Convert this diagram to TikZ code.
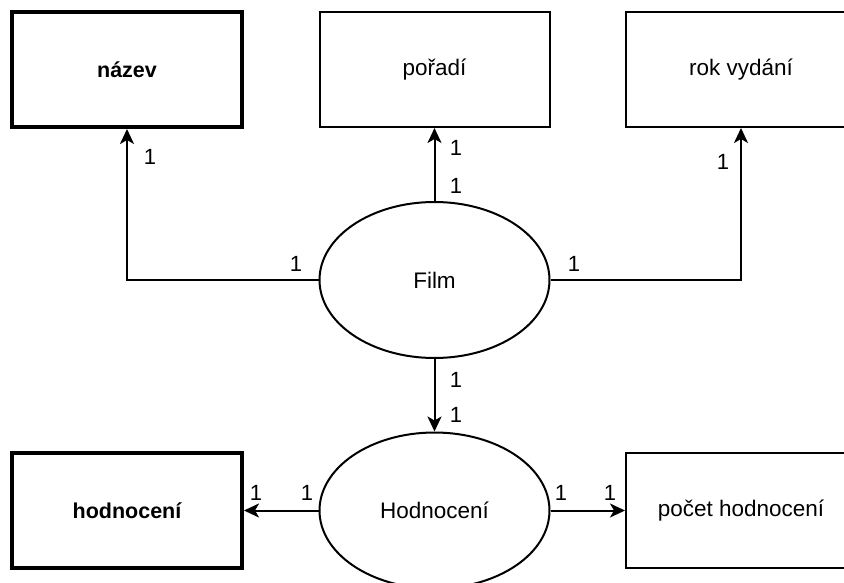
\documentclass[tikz,border=0pt]{standalone}
\usepackage{fontspec}
\setmainfont{Liberation Sans}
\usetikzlibrary{arrows.meta,shapes.geometric}
\begin{document}
\begin{tikzpicture}[x=1pt,y=-1pt,
  attr/.style={draw,line width=2pt,minimum width=230pt,minimum height=115pt,inner sep=0pt,font=\fontsize{22.5}{27}\selectfont},
  keyattr/.style={attr,line width=4pt,font=\fontsize{21.5}{26}\selectfont\bfseries},
  ent/.style={draw,ellipse,line width=2pt,minimum width=230pt,minimum height=156pt,inner sep=0pt,font=\fontsize{22.5}{27}\selectfont},
  conn/.style={line width=2pt,-{Stealth[length=15pt,width=14pt,inset=4pt]}},
  card/.style={font=\fontsize{22}{26}\selectfont,inner sep=0pt}]
\useasboundingbox (0,0) rectangle (844,583);
\clip (0,0) rectangle (844,583);
\fill[white] (0,0) rectangle (844,583);
\node[keyattr] (nazev) at (127,69.5) {název};
\node[attr] (poradi) at (434.5,69.5) {pořadí};
\node[attr] (rok) at (741,69.5) {rok vydání};
\node[keyattr] (hodbox) at (127,510.5) {hodnocení};
\node[attr] (pocet) at (741,510.5) {počet hodnocení};
\node[ent] (film) at (434.5,280) {Film};
\node[ent] (hod) at (434.5,510.5) {Hodnocení};
\draw[conn] (film.west) -| (nazev.south);
\draw[conn] (film.north) -- (poradi.south);
\draw[conn] (film.east) -| (rok.south);
\draw[conn] (film.south) -- (hod.north);
\draw[conn] (hod.west) -- (hodbox.east);
\draw[conn] (hod.east) -- (pocet.west);
\node[card] (c1) at (150,157) {1};
\node[card] (c2) at (296,264) {1};
\node[card] (c3) at (456,148) {1};
\node[card] (c4) at (456,186) {1};
\node[card] (c5) at (723,162) {1};
\node[card] (c6) at (574,264) {1};
\node[card] (c7) at (456,380) {1};
\node[card] (c8) at (456,415) {1};
\node[card] (c9) at (256,493) {1};
\node[card] (c10) at (307,493) {1};
\node[card] (c11) at (561,493) {1};
\node[card] (c12) at (610,493) {1};
\end{tikzpicture}
\end{document}
